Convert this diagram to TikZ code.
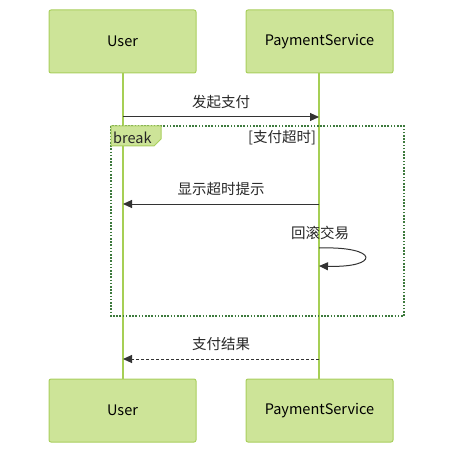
\documentclass[tikz,border=0pt]{standalone}
\usepackage{fontspec}
\setmainfont{Noto Sans CJK SC}
\usetikzlibrary{arrows.meta}
\definecolor{boxfill}{HTML}{CDE498}
\definecolor{boxline}{HTML}{A9CF5E}
\definecolor{lifeline}{HTML}{A6CF55}
\definecolor{frameline}{HTML}{3D7A3D}
\definecolor{msg}{HTML}{333333}
\tikzset{
  actor/.style={draw=boxline, fill=boxfill, line width=1pt, rounded corners=2pt, minimum width=147pt, minimum height=63pt, inner sep=0pt, font=\fontsize{14.5}{16}\selectfont},
  life/.style={draw=lifeline, line width=1.6pt},
  msgline/.style={draw=msg, line width=1pt, -{Triangle[length=9pt,width=8pt]}},
  lbl/.style={font=\fontsize{14.5}{16}\selectfont, text=black!85, inner sep=1pt},
}
\begin{document}
\begin{tikzpicture}[x=1pt,y=-1pt]
\useasboundingbox (0,0) rectangle (461,462);
% lifelines
\coordinate (u0) at (123,73);
\coordinate (u1) at (123,379);
\coordinate (p0) at (319,73);
\coordinate (p1) at (319,379);
\draw[life] (u0) -- (u1);
\draw[life] (p0) -- (p1);
% actors
\node[actor] (ut) at (122.5,41.5) {User};
\node[actor] (pt) at (319.5,41.5) {PaymentService};
\node[actor] (ub) at (122.5,410.5) {User};
\node[actor] (pb) at (319.5,410.5) {PaymentService};
% message 1
\coordinate (m1a) at (123,117);
\coordinate (m1b) at (319,117);
\draw[msgline] (m1a) -- (m1b);
\node[lbl] (l1) at (221,102) {发起支付};
% break frame
\coordinate (f0) at (111,126);
\coordinate (f1) at (404,316);
\draw[frameline, line width=1.6pt, dash pattern=on 1.6pt off 1.6pt] (f0) rectangle (f1);
\path[draw=boxline, fill=boxfill, line width=1pt] (111,126) -- (161,126) -- (161,139) -- (154,146) -- (111,146) -- cycle;
\node[lbl, anchor=west] (bk) at (112,137.5) {break};
\node[lbl] (cond) at (282,138) {[支付超时]};
% message 2
\coordinate (m2a) at (319,204);
\coordinate (m2b) at (123,204);
\draw[msgline] (m2a) -- (m2b);
\node[lbl] (l2) at (221,189) {显示超时提示};
% self loop
\coordinate (s0) at (319,248);
\coordinate (s1) at (319,266);
\draw[msgline] (s0) .. controls (380,246) and (380,268) .. (s1);
\node[lbl] (l3) at (320,233) {回滚交易};
% message 3
\coordinate (m3a) at (319,359);
\coordinate (m3b) at (123,359);
\draw[msgline, dash pattern=on 3pt off 2pt] (m3a) -- (m3b);
\node[lbl] (l4) at (221,344) {支付结果};
\end{tikzpicture}
\end{document}
